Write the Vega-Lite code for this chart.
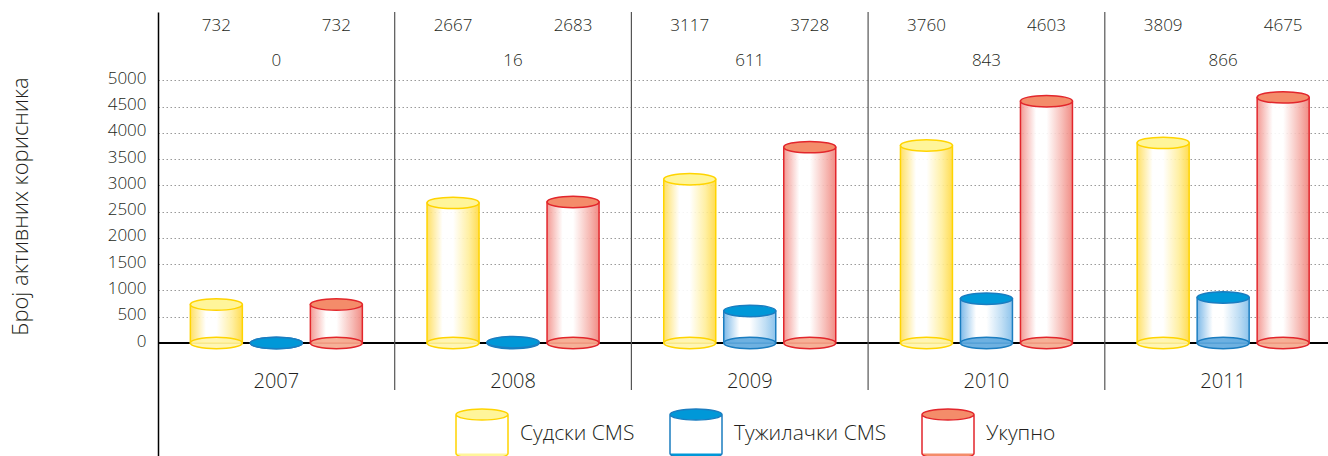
{
  "$schema": "https://vega.github.io/schema/vega-lite/v6.json",
  "width": 1170,
  "height": 444,
  "autosize": "none",
  "padding": {"left": 158, "top": 12, "right": 0, "bottom": 0},
  "background": "white",
  "config": {
    "font": "Open Sans",
    "view": {"stroke": null},
    "legend": {
      "orient": "none",
      "legendX": 297,
      "legendY": 395,
      "direction": "horizontal",
      "padding": 0,
      "symbolType": "M-1,-0.75A1,0.21,0,1,1,1,-0.75A1,0.21,0,1,1,-1,-0.75ZM-1,-0.75L-1,0.75M1,-0.75L1,0.75M-1,0.75A1,0.21,0,0,0,1,0.75",
      "symbolSize": 2704,
      "symbolStrokeWidth": 1.5,
      "symbolOpacity": 1,
      "labelFont": "Open Sans",
      "labelFontSize": 21,
      "labelFontWeight": 300,
      "labelColor": "#231f20",
      "labelOffset": 11,
      "columnPadding": 32
    }
  },
  "data": {
    "values": [
      {"year": "2007", "series": "Судски CMS", "value": 732},
      {"year": "2007", "series": "Тужилачки CMS", "value": 0},
      {"year": "2007", "series": "Укупно", "value": 732},
      {"year": "2008", "series": "Судски CMS", "value": 2667},
      {"year": "2008", "series": "Тужилачки CMS", "value": 16},
      {"year": "2008", "series": "Укупно", "value": 2683},
      {"year": "2009", "series": "Судски CMS", "value": 3117},
      {"year": "2009", "series": "Тужилачки CMS", "value": 611},
      {"year": "2009", "series": "Укупно", "value": 3728},
      {"year": "2010", "series": "Судски CMS", "value": 3760},
      {"year": "2010", "series": "Тужилачки CMS", "value": 843},
      {"year": "2010", "series": "Укупно", "value": 4603},
      {"year": "2011", "series": "Судски CMS", "value": 3809},
      {"year": "2011", "series": "Тужилачки CMS", "value": 866},
      {"year": "2011", "series": "Укупно", "value": 4675}
    ]
  },
  "layer": [
    {
      "mark": {"type": "rule", "color": "#000000", "strokeWidth": 1.5},
      "encoding": {
        "y": {"datum": 0, "type": "quantitative",
              "scale": {"domain": [-2150, 6300], "nice": false, "zero": false},
              "axis": {
                "values": [0, 500, 1000, 1500, 2000, 2500, 3000, 3500, 4000, 4500, 5000],
                "format": "d",
                "ticks": false,
                "domain": true,
                "domainColor": "#000000",
                "domainWidth": 1.5,
                "grid": true,
                "gridColor": "#9a9a9a",
                "gridDash": [1.5, 2.5],
                "gridWidth": 1.2,
                "labelFont": "Open Sans",
                "labelFontSize": 17,
                "labelFontWeight": 300,
                "labelColor": "#231f20",
                "labelPadding": 12,
                "labelOffset": -2,
                "title": "Број активних корисника",
                "titleFont": "Open Sans",
                "titleFontSize": 22,
                "titleFontWeight": 300,
                "titleColor": "#231f20",
                "titleX": -131,
                "titleY": 194,
                "titleAngle": -90,
                "titleAlign": "center",
                "titleBaseline": "alphabetic"
              }}
      }
    },
    {
      "transform": [{"filter": "datum.series == 'Судски CMS' && datum.year != '2007'"}],
      "mark": {"type": "rule", "color": "#555555", "strokeWidth": 1.2},
      "encoding": {
        "x": {"field": "year", "type": "nominal", "bandPosition": 0, "axis": null,
              "scale": {"type": "band", "range": [0, 1183.5], "paddingInner": 0, "paddingOuter": 0}},
        "y": {"datum": 6300, "type": "quantitative"},
        "y2": {"datum": -895}
      }
    },
    {
      "transform": [{"filter": "datum.series == 'Судски CMS'"}],
      "mark": {"type": "bar", "stroke": "#ffd400", "strokeWidth": 1.5, "fillOpacity": 0.9,
               "fill": {"gradient": "linear", "x1": 0, "y1": 0, "x2": 1, "y2": 0,
                        "stops": [{"offset": 0, "color": "#ffdd55"}, {"offset": 0.3, "color": "#ffffff"}, {"offset": 0.5, "color": "#ffffff"}, {"offset": 0.8, "color": "#ffee9a"}, {"offset": 1, "color": "#ffd840"}]}},
      "encoding": {
        "x": {"field": "year", "type": "nominal"},
        "xOffset": {"field": "series", "type": "nominal",
                    "scale": {"domain": ["Судски CMS", "Тужилачки CMS", "Укупно"], "paddingInner": 0.1333, "paddingOuter": 0.539}},
        "y": {"field": "value", "type": "quantitative"},
        "y2": {"datum": 0}
      }
    },
    {
      "transform": [{"filter": "datum.series == 'Тужилачки CMS'"}],
      "mark": {"type": "bar", "stroke": "#1b7dc0", "strokeWidth": 1.5, "fillOpacity": 0.9,
               "fill": {"gradient": "linear", "x1": 0, "y1": 0, "x2": 1, "y2": 0,
                        "stops": [{"offset": 0, "color": "#6fb2e6"}, {"offset": 0.3, "color": "#ffffff"}, {"offset": 0.5, "color": "#ffffff"}, {"offset": 0.8, "color": "#b8daf3"}, {"offset": 1, "color": "#80bdea"}]}},
      "encoding": {
        "x": {"field": "year", "type": "nominal"},
        "xOffset": {"field": "series", "type": "nominal"},
        "y": {"field": "value", "type": "quantitative"},
        "y2": {"datum": 0}
      }
    },
    {
      "transform": [{"filter": "datum.series == 'Укупно'"}],
      "mark": {"type": "bar", "stroke": "#e2262c", "strokeWidth": 1.5, "fillOpacity": 0.9,
               "fill": {"gradient": "linear", "x1": 0, "y1": 0, "x2": 1, "y2": 0,
                        "stops": [{"offset": 0, "color": "#f28f88"}, {"offset": 0.3, "color": "#ffffff"}, {"offset": 0.5, "color": "#ffffff"}, {"offset": 0.8, "color": "#f6b6b0"}, {"offset": 1, "color": "#ef8078"}]}},
      "encoding": {
        "x": {"field": "year", "type": "nominal"},
        "xOffset": {"field": "series", "type": "nominal"},
        "y": {"field": "value", "type": "quantitative"},
        "y2": {"datum": 0}
      }
    },
    {
      "transform": [{"filter": "datum.series == 'Судски CMS'"}],
      "mark": {"type": "point", "shape": "M-1,0A1,0.22,0,1,1,1,0A1,0.22,0,1,1,-1,0Z", "size": 2704,
               "filled": true, "fill": "#fff3a8", "stroke": "#ffd400", "strokeWidth": 1.5, "opacity": 1, "fillOpacity": 0.85},
      "encoding": {
        "x": {"field": "year", "type": "nominal"},
        "xOffset": {"field": "series", "type": "nominal"},
        "y": {"datum": 0, "type": "quantitative"}
      }
    },
    {
      "transform": [{"filter": "datum.series == 'Тужилачки CMS'"}],
      "mark": {"type": "point", "shape": "M-1,0A1,0.22,0,1,1,1,0A1,0.22,0,1,1,-1,0Z", "size": 2704,
               "filled": true, "fill": "#5ea8de", "stroke": "#1b7dc0", "strokeWidth": 1.5, "opacity": 1, "fillOpacity": 0.9},
      "encoding": {
        "x": {"field": "year", "type": "nominal"},
        "xOffset": {"field": "series", "type": "nominal"},
        "y": {"datum": 0, "type": "quantitative"}
      }
    },
    {
      "transform": [{"filter": "datum.series == 'Укупно'"}],
      "mark": {"type": "point", "shape": "M-1,0A1,0.22,0,1,1,1,0A1,0.22,0,1,1,-1,0Z", "size": 2704,
               "filled": true, "fill": "#f5a88c", "stroke": "#e2262c", "strokeWidth": 1.5, "opacity": 1, "fillOpacity": 0.9},
      "encoding": {
        "x": {"field": "year", "type": "nominal"},
        "xOffset": {"field": "series", "type": "nominal"},
        "y": {"datum": 0, "type": "quantitative"}
      }
    },
    {
      "mark": {"type": "point", "shape": "M-1,0A1,0.22,0,1,1,1,0A1,0.22,0,1,1,-1,0Z", "size": 2704,
               "filled": true, "strokeWidth": 1.5, "opacity": 1},
      "encoding": {
        "x": {"field": "year", "type": "nominal"},
        "xOffset": {"field": "series", "type": "nominal"},
        "y": {"field": "value", "type": "quantitative"},
        "fill": {"field": "series", "type": "nominal",
                 "scale": {"domain": ["Судски CMS", "Тужилачки CMS", "Укупно"], "range": ["#fff59a", "#0098d8", "#f48c6a"]},
                 "legend": {"title": null}},
        "stroke": {"field": "series", "type": "nominal",
                   "scale": {"domain": ["Судски CMS", "Тужилачки CMS", "Укупно"], "range": ["#ffd400", "#1b7dc0", "#e2262c"]},
                   "legend": {"title": null}}
      }
    },
    {
      "transform": [{"filter": "datum.series != 'Тужилачки CMS'"}],
      "mark": {"type": "text", "font": "Open Sans", "fontSize": 17, "fontWeight": 300, "color": "#231f20", "baseline": "middle"},
      "encoding": {
        "x": {"field": "year", "type": "nominal"},
        "xOffset": {"field": "series", "type": "nominal"},
        "y": {"datum": 6030, "type": "quantitative"},
        "text": {"field": "value", "type": "quantitative", "format": "d"}
      }
    },
    {
      "transform": [{"filter": "datum.series == 'Тужилачки CMS'"}],
      "mark": {"type": "text", "font": "Open Sans", "fontSize": 17, "fontWeight": 300, "color": "#231f20", "baseline": "middle"},
      "encoding": {
        "x": {"field": "year", "type": "nominal"},
        "xOffset": {"field": "series", "type": "nominal"},
        "y": {"datum": 5360, "type": "quantitative"},
        "text": {"field": "value", "type": "quantitative", "format": "d"}
      }
    },
    {
      "transform": [{"filter": "datum.series == 'Судски CMS'"}],
      "mark": {"type": "text", "font": "Open Sans", "fontSize": 20, "fontWeight": 300, "color": "#231f20", "baseline": "middle"},
      "encoding": {
        "x": {"field": "year", "type": "nominal"},
        "y": {"datum": -742, "type": "quantitative"},
        "text": {"field": "year", "type": "nominal"}
      }
    }
  ]
}
